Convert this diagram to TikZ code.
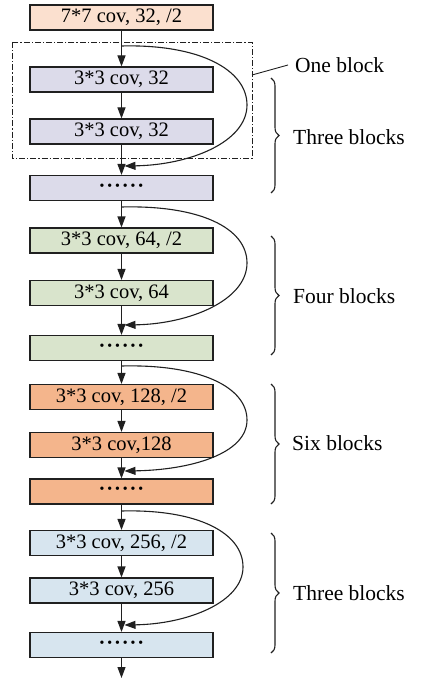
\documentclass[tikz,border=0pt]{standalone}
\usepackage{fontspec}
\setmainfont{Liberation Serif}
\usetikzlibrary{arrows.meta,decorations.pathreplacing}
\definecolor{cPeach}{HTML}{FBE0CF}
\definecolor{cLav}{HTML}{DCDBEA}
\definecolor{cGreen}{HTML}{D9E4CC}
\definecolor{cOrange}{HTML}{F4B58C}
\definecolor{cBlue}{HTML}{D7E5EF}
\definecolor{cLine}{HTML}{202020}
\newcommand{\mydots}{\textbf{·\kern0.9pt·\kern0.9pt·\kern0.9pt·\kern0.9pt·\kern0.9pt·}}
\begin{document}
\begin{tikzpicture}[x=1pt,y=-1pt,
  box/.style={draw=cLine, line width=1.1pt, minimum width=183pt, minimum height=25pt, inner sep=0pt, font=\fontsize{20.5}{22}\selectfont},
  arr/.style={draw=cLine, line width=1.1pt, -{Triangle[length=11pt,width=8pt]}},
  lbl/.style={anchor=west, inner sep=0pt, font=\fontsize{21.5}{24}\selectfont},
  brc/.style={draw=cLine, line width=1.1pt, decorate, decoration={brace, amplitude=8pt}},
  dashdot/.style={draw=cLine, line width=0.9pt, dash pattern=on 6pt off 2pt on 1.2pt off 2pt}]
\path[use as bounding box] (0,0) rectangle (421,679);

% boxes
\node[box, fill=cPeach] (n0) at (121.5,17.5) {7*7 cov, 32, /2};
\node[box, fill=cLav] (a1) at (121.5,79.5) {3*3 cov, 32};
\node[box, fill=cLav] (a2) at (121.5,131.5) {3*3 cov, 32};
\node[box, fill=cLav] (a3) at (121.5,188) {\mydots};
\node[box, fill=cGreen] (b1) at (121.5,240.5) {3*3 cov, 64, /2};
\node[box, fill=cGreen] (b2) at (121.5,293) {3*3 cov, 64};
\node[box, fill=cGreen] (b3) at (121.5,348) {\mydots};
\node[box, fill=cOrange] (c1) at (121.5,397) {3*3 cov, 128, /2};
\node[box, fill=cOrange] (c2) at (121.5,445) {3*3 cov,128};
\node[box, fill=cOrange] (c3) at (121.5,491.5) {\mydots};
\node[box, fill=cBlue] (d1) at (121.5,543) {3*3 cov, 256, /2};
\node[box, fill=cBlue] (d2) at (121.5,590.5) {3*3 cov, 256};
\node[box, fill=cBlue] (d3) at (121.5,645) {\mydots};
\coordinate (fin) at (121.5,678);

% main arrows
\draw[arr] (n0) -- (a1);
\draw[arr] (a1) -- (a2);
\draw[arr] (a2) -- (a3);
\draw[arr] (a3) -- (b1);
\draw[arr] (b1) -- (b2);
\draw[arr] (b2) -- (b3);
\draw[arr] (b3) -- (c1);
\draw[arr] (c1) -- (c2);
\draw[arr] (c2) -- (c3);
\draw[arr] (c3) -- (d1);
\draw[arr] (d1) -- (d2);
\draw[arr] (d2) -- (d3);
\draw[arr] (d3) -- (fin);

% skip connections
\coordinate (sa) at (121.5,46);  \coordinate (ea) at (124.5,166);
\coordinate (sb) at (121.5,207); \coordinate (eb) at (124.5,325);
\coordinate (sc) at (121.5,366); \coordinate (ec) at (124.5,471);
\coordinate (sd) at (121.5,511); \coordinate (ed) at (124.5,625);
\draw[arr] (sa) .. controls (200,44) and (247,70) .. (247,105) .. controls (247,142) and (190,165) .. (ea);
\draw[arr] (sb) .. controls (200,205) and (247,228) .. (247,263) .. controls (247,300) and (190,324) .. (eb);
\draw[arr] (sc) .. controls (200,364) and (247,387) .. (247,420) .. controls (247,454) and (190,470) .. (ec);
\draw[arr] (sd) .. controls (198,509) and (243,533) .. (243,567) .. controls (243,602) and (188,624) .. (ed);

% one block frame
\draw[dashdot] (12,42) rectangle (252,158);
\coordinate (fr) at (252,75);
\node[lbl] (one) at (295,65) {One block};
\draw[draw=cLine, line width=0.9pt] (fr) -- ([xshift=-7pt]one.west);

% braces
\draw[brc] (271,78) -- (271,193);
\draw[brc] (271,236) -- (271,355);
\draw[brc] (271,384) -- (271,504);
\draw[brc] (271,533) -- (271,653);
\node[lbl] (t1) at (293,137) {Three blocks};
\node[lbl] (t2) at (293,296) {Four blocks};
\node[lbl] (t3) at (292,443) {Six blocks};
\node[lbl] (t4) at (293,593) {Three blocks};
\end{tikzpicture}
\end{document}
